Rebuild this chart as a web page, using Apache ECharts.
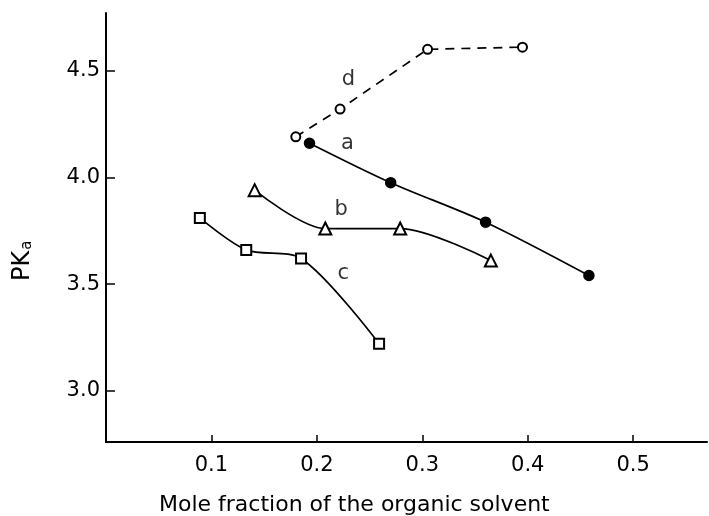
<!DOCTYPE html>
<html>
<head>
<meta charset="utf-8">
<style>
    html, body { margin: 0; padding: 0; background: #fff; }
    #chart { width: 709px; height: 516px; }
</style>
<script src="https://cdn.jsdelivr.net/npm/echarts@6/dist/echarts.min.js"></script>
</head>
<body>
<div id="chart"></div>
<script>
// curve data: [mole fraction, pKa]
const curveA = [[0.193, 4.16], [0.270, 3.975], [0.360, 3.79], [0.458, 3.54]]
const curveB = [[0.141, 3.94], [0.208, 3.76], [0.279, 3.76], [0.365, 3.61]]
const curveC = [[0.089, 3.81], [0.133, 3.66], [0.185, 3.62], [0.259, 3.22]]
const curveD = [[0.180, 4.19], [0.222, 4.32], [0.305, 4.60], [0.395, 4.61]]

// curve letters placed in data coordinates
const curveLabels = [[0.230, 4.46, 'd'], [0.229, 4.16, 'a'], [0.223, 3.85, 'b'], [0.225, 3.55, 'c']]

const xTicks = [0.1, 0.2, 0.3, 0.4, 0.5]
const yTicks = [3.0, 3.5, 4.0, 4.5]

const font = 'DejaVu Sans'
const chart = echarts.init(document.getElementById('chart'))

// 曲线公共样式
const lineSeries = (data, symbol, size, opts) => Object.assign({
    type: 'line',
    data: data,
    symbol: symbol,
    symbolSize: size,
    smooth: 0.3,
    animation: false,
    lineStyle: { color: '#000', width: 1.7 },
    itemStyle: { color: '#000', borderColor: '#000', borderWidth: 1.5 },
    z: 3
}, opts || {})

const option = {
    backgroundColor: '#fff',
    grid: { left: 106, top: 13, width: 601, height: 429 },
    xAxis: {
        type: 'value',
        min: 0,
        max: 0.57,
        axisLine: { show: true, onZero: false, lineStyle: { color: '#000', width: 2 } },
        axisTick: { show: true, inside: true, length: 7, customValues: xTicks, lineStyle: { color: '#000', width: 1.5 } },
        axisLabel: {
            customValues: xTicks,
            margin: 13,
            color: '#000',
            fontFamily: font,
            fontSize: 21,
            formatter: v => v.toFixed(1)
        },
        splitLine: { show: false }
    },
    yAxis: {
        type: 'value',
        min: 2.76,
        max: 4.77,
        axisLine: { show: true, onZero: false, lineStyle: { color: '#000', width: 2 } },
        axisTick: { show: true, inside: true, length: 9, customValues: yTicks, lineStyle: { color: '#000', width: 1.5 } },
        axisLabel: {
            customValues: yTicks,
            margin: 6,
            color: '#000',
            fontFamily: font,
            fontSize: 21,
            formatter: v => v.toFixed(1)
        },
        splitLine: { show: false }
    },
    graphic: [
        {
            type: 'text',
            left: 159,
            top: 494,
            style: {
                text: 'Mole fraction of the organic solvent',
                fill: '#000',
                font: '22px "DejaVu Sans"'
            }
        },
        {
            type: 'text',
            x: 11,
            y: 281,
            rotation: Math.PI / 2,
            style: {
                text: 'PK{s|a}',
                fill: '#000',
                font: '24px "DejaVu Sans"',
                rich: {
                    s: { fontSize: 15, fontFamily: font, padding: [9, 0, 0, 1] }
                }
            }
        }
    ],
    series: [
        lineSeries(curveD, 'emptyCircle', 9, {
            smooth: false,
            lineStyle: { color: '#000', width: 1.7, type: [9, 7] }
        }),
        lineSeries(curveA, 'circle', 10),
        lineSeries(curveB, 'emptyTriangle', 12),
        lineSeries(curveC, 'emptyRect', 10),
        {
            type: 'scatter',
            data: curveLabels.map(v => ({ value: [v[0], v[1]], name: v[2] })),
            symbolSize: 1,
            itemStyle: { color: 'transparent' },
            animation: false,
            label: {
                show: true,
                position: 'inside',
                formatter: p => p.name,
                color: '#000',
                fontFamily: font,
                fontSize: 21
            }
        }
    ]
}

chart.setOption(option)
</script>
</body>
</html>
